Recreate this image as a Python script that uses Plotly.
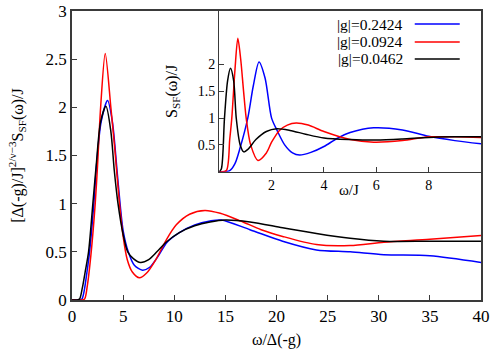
import plotly.graph_objects as go

# ---------------- data ----------------
labels = ["|g|=0.2424", "|g|=0.0924", "|g|=0.0462"]
colors = ["#0000ff", "#ff0000", "#000000"]

# main panel: omega / Delta(-g)  vs scaled S_SF
main_blue_x = [0, 0.7, 0.97, 1.2, 1.45, 1.72, 2.14, 2.4, 2.85, 3.48, 3.95, 4.4, 4.7, 5.0, 5.5, 6.1, 6.9, 7.6, 8.4, 9.3, 10.5, 12, 13.5, 14.6, 17.4, 20.6, 23.9, 27.2, 30.5, 35, 40]
main_blue_y = [0, 0, 0.01, 0.1, 0.28, 0.5, 1.0, 1.4, 1.85, 2.07, 1.85, 1.35, 1.0, 0.72, 0.5, 0.36, 0.31, 0.34, 0.45, 0.6, 0.7, 0.78, 0.82, 0.83, 0.73, 0.61, 0.52, 0.50, 0.47, 0.46, 0.39]

main_red_x = [0, 0.9, 1.23, 1.5, 1.88, 2.27, 2.5, 2.8, 3.25, 3.8, 4.2, 4.6, 5.0, 5.4, 5.9, 6.6, 7.3, 8.2, 9.2, 10.2, 11.5, 13.0, 14.5, 16.5, 18.5, 20.6, 23.9, 27.2, 30.5, 35, 40]
main_red_y = [0, 0, 0.01, 0.15, 0.5, 1.0, 1.4, 2.0, 2.56, 2.0, 1.55, 1.05, 0.66, 0.42, 0.29, 0.23, 0.28, 0.42, 0.62, 0.78, 0.89, 0.93, 0.9, 0.82, 0.73, 0.66, 0.575, 0.565, 0.60, 0.63, 0.67]

main_black_x = [0, 0.5, 0.74, 1.0, 1.3, 1.62, 2.04, 2.37, 2.8, 3.32, 3.8, 4.13, 4.5, 5.0, 5.45, 6.0, 6.7, 7.5, 8.3, 9.2, 10.5, 12, 13.5, 15, 17.4, 20.6, 23.9, 27.2, 30.5, 35, 40]
main_black_y = [0, 0, 0.01, 0.12, 0.3, 0.5, 1.0, 1.4, 1.85, 2.01, 1.75, 1.35, 1.0, 0.68, 0.5, 0.43, 0.39, 0.42, 0.5, 0.6, 0.7, 0.77, 0.81, 0.83, 0.81, 0.75, 0.69, 0.64, 0.61, 0.61, 0.61]

# inset: omega / J vs S_SF / J
ins_blue_x = [0, 0.4, 0.6, 0.8, 1.09, 1.3, 1.52, 1.75, 2.0, 2.2, 2.5, 2.8, 3.07, 3.5, 4.0, 4.5, 5.0, 5.9, 7.0, 8.0, 9.0, 10]
ins_blue_y = [0, 0.02, 0.15, 0.45, 1.0, 1.6, 2.05, 1.75, 1.0, 0.78, 0.5, 0.35, 0.31, 0.36, 0.47, 0.62, 0.73, 0.82, 0.78, 0.66, 0.58, 0.52]

ins_red_x = [0, 0.27, 0.4, 0.48, 0.6, 0.71, 0.82, 0.93, 1.03, 1.2, 1.48, 1.8, 2.0, 2.3, 2.6, 2.94, 3.4, 4.0, 5.0, 5.9, 7.0, 8.0, 9.0, 10]
ins_red_y = [0, 0.02, 0.6, 1.0, 1.9, 2.49, 2.1, 1.5, 1.0, 0.5, 0.21, 0.35, 0.55, 0.77, 0.87, 0.91, 0.87, 0.75, 0.6, 0.55, 0.58, 0.65, 0.65, 0.64]

ins_black_x = [0, 0.08, 0.2, 0.32, 0.43, 0.55, 0.65, 0.8, 0.94, 1.1, 1.4, 1.8, 2.2, 2.7, 3.3, 4.0, 5.0, 6.0, 7.0, 8.0, 9.0, 10]
ins_black_y = [0, 0.05, 1.0, 1.7, 1.93, 1.7, 1.0, 0.5, 0.37, 0.42, 0.6, 0.75, 0.80, 0.77, 0.7, 0.63, 0.6, 0.59, 0.61, 0.64, 0.65, 0.65]

main_series = [(main_blue_x, main_blue_y), (main_red_x, main_red_y), (main_black_x, main_black_y)]
inset_series = [(ins_blue_x, ins_blue_y), (ins_red_x, ins_red_y), (ins_black_x, ins_black_y)]

main_xticks = [0, 5, 10, 15, 20, 25, 30, 35, 40]
main_yticks = [0, 0.5, 1, 1.5, 2, 2.5, 3]
ins_xticks = [2, 4, 6, 8]
ins_yticks = [0.5, 1, 1.5, 2]

# ---------------- figure ----------------
FONT = "Liberation Serif, Times New Roman, serif"
AX = "#3a3a3a"

def f(size):
    return dict(family=FONT, size=size, color="black")

fig = go.Figure()
for (x, y), c, lab in zip(main_series, colors, labels):
    fig.add_trace(go.Scatter(x=x, y=y, mode="lines", line=dict(color=c, width=1.5, shape="spline", smoothing=0.8),
                             name=lab, showlegend=False, xaxis="x", yaxis="y"))
for (x, y), c, lab in zip(inset_series, colors, labels):
    fig.add_trace(go.Scatter(x=x, y=y, mode="lines", line=dict(color=c, width=1.5, shape="spline", smoothing=0.8),
                             name=lab, showlegend=False, xaxis="x2", yaxis="y2"))

fig.update_layout(
    width=497, height=350,
    margin=dict(l=72, r=16, t=11, b=50),
    paper_bgcolor="white", plot_bgcolor="white",
    font=f(16),
    showlegend=False,
    xaxis=dict(range=[0, 40], tickvals=main_xticks, ticks="inside", ticklen=5, tickcolor=AX, automargin=False,
               showline=True, linecolor=AX, linewidth=1.5, mirror=True, showgrid=False, zeroline=False,
               title=dict(text="ω/Δ(-g)", standoff=9, font=f(16)), tickfont=f(17)),
    yaxis=dict(range=[0, 3], tickvals=main_yticks, ticks="inside", ticklen=5, tickcolor=AX, automargin=False,
               showline=True, linecolor=AX, linewidth=1.5, mirror=True, showgrid=False, zeroline=False,
               title=dict(text="[Δ(-g)/J]<sup>2/ν−3</sup>S<sub>SF</sub>(ω)/J", standoff=18, font=f(16)),
               tickfont=f(17)),
    xaxis2=dict(domain=[0.36, 1.0], anchor="y2", range=[0, 10], tickvals=ins_xticks, ticks="inside", ticklen=5,
                tickcolor=AX, showline=True, linecolor=AX, linewidth=1.2, showgrid=False, zeroline=False,
                automargin=False, tickfont=f(14)),
    yaxis2=dict(domain=[0.444, 1.0], anchor="x2", range=[0, 3], tickvals=ins_yticks, ticks="inside", ticklen=5,
                tickcolor=AX, showline=True, linecolor=AX, linewidth=1.2, showgrid=False, zeroline=False,
                automargin=False,
                title=dict(text="S<sub>SF</sub>(ω)/J", standoff=16, font=f(16)), tickfont=f(14)),
)

# inset x-axis title, placed between the 4 and 6 tick labels as in the reference
fig.add_annotation(x=0.677, y=0.38, xref="paper", yref="paper", text="ω/J", showarrow=False,
                   xanchor="center", yanchor="middle", font=f(15))

# legend drawn gnuplot-style: text right-aligned, sample line to its right
leg_y = [0.955, 0.893, 0.834]
for lab, c, yy in zip(labels, colors, leg_y):
    fig.add_annotation(x=0.814, y=yy, xref="paper", yref="paper", text=lab, showarrow=False,
                       xanchor="right", yanchor="middle", font=f(15.5))
    fig.add_shape(type="line", xref="paper", yref="paper", x0=0.838, x1=0.948, y0=yy, y1=yy,
                  line=dict(color=c, width=1.5))

fig.write_html("out.html", config={"displayModeBar": False},
               post_script="document.body.style.margin='0px';")
